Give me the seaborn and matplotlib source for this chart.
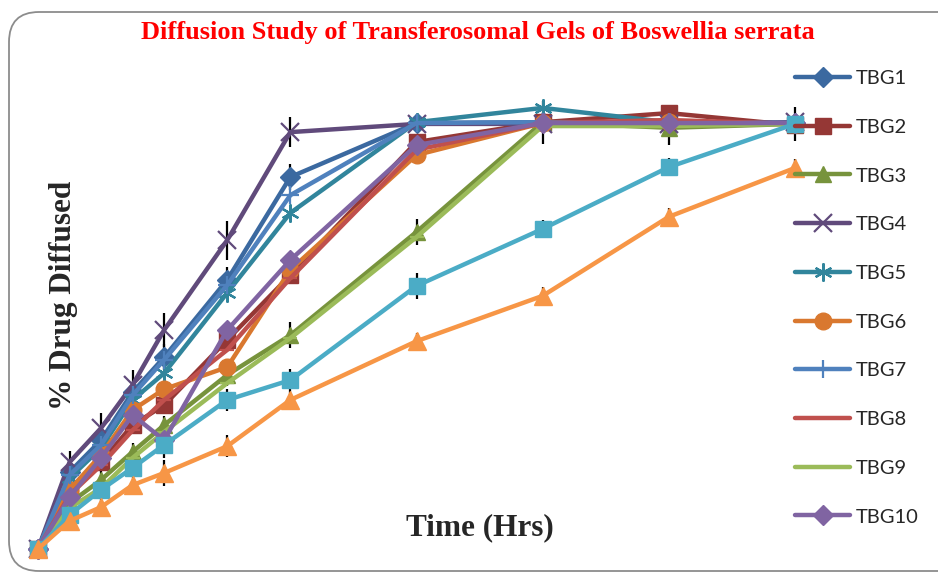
import matplotlib.pyplot as plt
import pandas as pd
import seaborn as sns
from matplotlib.patches import FancyBboxPatch

sns.set_theme(style="white")
plt.rcParams['font.family'] = ['Lato', 'DejaVu Sans']

hours = [0, 0.5, 1, 1.5, 2, 3, 4, 6, 8, 10, 12]

tbg1 = [0, 17.8, 25.2, 36.3, 44.4, 62.3, 86.1, 98.6, 98.8, 98.8, 98.6]
tbg2 = [0, 13.7, 20.1, 28.7, 33.3, 48.4, 63.4, 94.2, 98.8, 100.9, 98.1]
tbg3 = [0, 10.6, 16.0, 22.5, 28.7, 40.3, 49.5, 73.4, 98.8, 97.5, 98.4]
tbg4 = [0, 20.1, 28.0, 38.0, 50.7, 71.5, 96.5, 98.4, 98.4, 98.4, 98.8]
tbg5 = [0, 16.4, 23.4, 34.5, 40.7, 59.3, 77.8, 98.8, 102.1, 98.8, 98.4]
tbg6 = [0, 13.7, 21.8, 32.2, 37.0, 42.1, 64.6, 91.2, 98.6, 98.8, 98.4]
tbg7 = [0, 17.1, 24.1, 35.6, 43.8, 61.1, 81.9, 98.6, 98.8, 98.8, 98.6]
tbg8 = [0, 12.5, 19.4, 27.5, 34.5, 46.1, 62.7, 92.4, 98.6, 99.3, 98.4]
tbg9 = [0, 9.5, 14.1, 21.1, 27.1, 38.4, 48.8, 72.2, 97.9, 97.9, 98.4]
tbg10 = [0, 12.0, 21.1, 31.0, 25.2, 50.7, 66.9, 93.5, 98.6, 98.6, 98.6]
tbg11 = [0, 7.9, 13.7, 18.8, 24.1, 34.5, 39.1, 60.9, 74.1, 88.4, 98.4]
tbg12 = [0, 6.5, 9.7, 14.8, 17.6, 23.8, 34.5, 48.1, 58.6, 76.9, 88.2]

# standard deviations (only some series carry error bars)
sd4 = [0, 2.5, 3.5, 3.5, 4.0, 4.5, 3.5, 1.0, 1.0, 1.0, 1.0]
sd1 = [0, 2.0, 2.5, 2.5, 3.0, 3.0, 3.0, 2.0, 2.0, 2.0, 2.0]
sd3 = [0, 1.5, 2.0, 2.0, 2.0, 2.5, 3.0, 3.0, 5.0, 4.0, 4.0]
sd11 = [0, 1.5, 2.0, 2.0, 3.0, 2.5, 2.5, 3.0, 2.0, 2.0, 2.0]
sd12 = [0, 1.5, 2.0, 2.0, 3.0, 2.5, 2.0, 2.0, 2.0, 2.0, 2.0]

names = ['TBG1', 'TBG2', 'TBG3', 'TBG4', 'TBG5', 'TBG6', 'TBG7', 'TBG8',
         'TBG9', 'TBG10', 'TBG11', 'TBG12']
values = [tbg1, tbg2, tbg3, tbg4, tbg5, tbg6, tbg7, tbg8, tbg9, tbg10,
          tbg11, tbg12]
errors = {'TBG1': sd1, 'TBG3': sd3, 'TBG4': sd4, 'TBG11': sd11,
          'TBG12': sd12}

colors = ['#3b69a0', '#953735', '#77933c', '#604a7b', '#31859c', '#d9782f',
          '#4f81bd', '#c0504d', '#9bbb59', '#8064a2', '#4bacc6', '#f79646']
markers = ['D', 's', '^', 'x', (6, 2, 0), 'o', '+', '_', '_', 'D', 's', '^']
msizes = [10, 12, 12, 13, 13, 12, 13, 10, 10, 10, 12, 13]

df = pd.DataFrame({n: v for n, v in zip(names, values)})
df['hours'] = hours

fig = plt.figure(figsize=(9.38, 5.73), dpi=100)
ax = fig.add_axes([38 / 938, 1 - 549 / 573, (795 - 38) / 938, (549 - 117) / 573])

for n, c in zip(names, colors):
    if n in errors:
        ax.errorbar(df['hours'], df[n], yerr=errors[n], fmt='none',
                    ecolor='black', elinewidth=1.6, capsize=0, zorder=1,
                    clip_on=False)

for n, c, m, ms in zip(names, colors, markers, msizes):
    filled = m not in ['x', '+', '_'] and not isinstance(m, tuple)
    sns.lineplot(data=df, x='hours', y=n, ax=ax, color=c, lw=3.2,
                 marker=m, markersize=ms, label=n,
                 markeredgecolor=c, markerfacecolor=c if filled else 'none',
                 markeredgewidth=1.0 if filled else 1.6,
                 clip_on=False, zorder=2)

ax.set_xlim(0, 12)
ax.set_ylim(0, 100)
ax.set_xticks([])
ax.set_yticks([])
for s in ax.spines.values():
    s.set_visible(False)
ax.set_xlabel('')
ax.set_ylabel('')

handles, labels = ax.get_legend_handles_labels()
ax.legend(handles[:10], labels[:10], loc='upper left',
          bbox_to_anchor=(795 / 938, 1 - 70 / 573),
          bbox_transform=fig.transFigure, frameon=False, fontsize=14.5,
          handlelength=2.75, handletextpad=0.25, labelspacing=1.57,
          borderpad=0, borderaxespad=0)

fig.text(478 / 938, 1 - 33 / 573,
         'Diffusion Study of Transferosomal Gels of Boswellia serrata',
         ha='center', va='center', color='red', fontsize=19,
         fontweight='bold', family=['Liberation Serif', 'DejaVu Serif'])
fig.text(480 / 938, 1 - 528 / 573, 'Time (Hrs)', ha='center', va='center',
         fontsize=22.5, fontweight='bold',
         family=['Liberation Serif', 'DejaVu Serif'])
fig.text(63 / 938, 1 - 295 / 573, '% Drug Diffused', ha='center',
         va='center', rotation=90, fontsize=22.5, fontweight='bold',
         family=['Liberation Serif', 'DejaVu Serif'])

border = FancyBboxPatch((0.09, 0.02), 9.7, 5.59,
                        boxstyle='round,pad=0,rounding_size=0.3',
                        transform=fig.dpi_scale_trans, fill=False,
                        edgecolor='#8c8c8c', lw=1.3)
fig.patches.append(border)

fig.savefig('out.png', dpi=100)
